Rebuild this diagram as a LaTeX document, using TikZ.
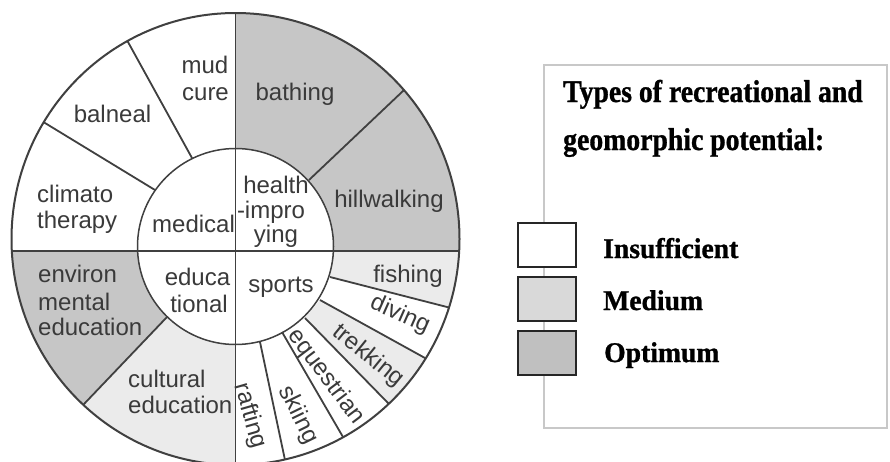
\documentclass[tikz,border=0pt]{standalone}
\usepackage{fontspec}
\setmainfont{Liberation Sans}
\newfontfamily\legA{Liberation Serif}[FakeStretch=0.88,FakeBold=1]
\newfontfamily\legB{Liberation Serif}[FakeStretch=0.97,FakeBold=1]
\definecolor{ink}{HTML}{3A3A3A}
\definecolor{lineC}{HTML}{404040}
\definecolor{opt}{HTML}{C6C6C6}
\definecolor{med}{HTML}{EBEBEB}
\definecolor{legopt}{HTML}{C0C0C0}
\definecolor{legmed}{HTML}{D9D9D9}
\definecolor{frameC}{HTML}{C8C8C8}
\begin{document}
\begin{tikzpicture}[x=1pt,y=-1pt,
  lbl/.style={font=\fontsize{24}{24}\selectfont, text=ink, inner sep=0pt, anchor=base},
  lblw/.style={lbl, anchor=base west},
  rotlbl/.style={font=\fontsize{24}{24}\selectfont, text=ink, inner sep=0pt, anchor=center, rotate=#1},
  divline/.style={draw=lineC, line width=1.8pt},
  legbox/.style={draw=black!85, line width=2pt, minimum width=58pt, minimum height=44pt, inner sep=0pt},
  legtitle/.style={font=\legA\bfseries\fontsize{31.5}{31.5}\selectfont, inner sep=0pt, anchor=base west},
  legitem/.style={font=\legB\bfseries\fontsize{28.5}{28.5}\selectfont, inner sep=0pt, anchor=base west}]
\useasboundingbox (0,0) rectangle (890,461);
\fill[white] (0,0) rectangle (890,461);
% centres
\coordinate (C) at (235.5,246.5);
\coordinate (Co) at (235.5,239);
% divider end points
\coordinate (d1i) at (192,158); \coordinate (d1e) at (64,-74);
\coordinate (d2i) at (155,190); \coordinate (d2e) at (-65,56);
\coordinate (d3i) at (309,180); \coordinate (d3e) at (497,2);
\coordinate (d4i) at (167,317); \coordinate (d4e) at (3,489);
\coordinate (s1i) at (330,277); \coordinate (s1e) at (564,337);
\coordinate (s2i) at (320,300); \coordinate (s2e) at (530,416);
\coordinate (s3i) at (305,318); \coordinate (s3e) at (471,488);
\coordinate (s4i) at (282,332); \coordinate (s4e) at (404,542);
\coordinate (s5i) at (260,342); \coordinate (s5e) at (310,578);
\coordinate (vt) at (235.5,-100); \coordinate (vb) at (235.5,600);
\coordinate (hl) at (-200,251); \coordinate (hr) at (700,251);
\coordinate (hc) at (235.5,251);
\begin{scope}
\clip (Co) ellipse [x radius=224pt, y radius=226pt];
% optimum sectors
\fill[opt] (C) -- (vt) -- (d3e) -- (d3i) -- cycle;
\fill[opt] (d3i) -- (d3e) -- (700,2) -- (hr) -- (hc) -- cycle;
\fill[opt] (hc) -- (hl) -- (-200,489) -- (d4e) -- (d4i) -- cycle;
% medium sectors
\fill[med] (d4i) -- (d4e) -- (3,600) -- (vb) -- (hc) -- cycle;
\fill[med] (hc) -- (hr) -- (700,337) -- (s1e) -- (s1i) -- cycle;
\fill[med] (s2i) -- (s2e) -- (s3e) -- (s3i) -- cycle;
% inner disc
\fill[white] (C) circle [radius=98pt];
% lines
\draw[divline] (vt) -- (vb);
\draw[divline] (hl) -- (hr);
\foreach \p in {d1,d2,d3,d4,s1,s2,s3,s4,s5}{
  \draw[divline] (\p i) -- (\p e);
}
\end{scope}
\draw[draw=lineC, line width=1.5pt] (C) circle [radius=98pt];
\draw[draw=lineC, line width=2pt] (Co) ellipse [x radius=224pt, y radius=226pt];
% labels: medical quadrant
\node[lbl] (mud) at (205,73) {mud};
\node[lbl] (cure) at (205.5,100) {cure};
\node[lbl] (balneal) at (112.5,122) {balneal};
\node[lblw] (climato) at (37,202) {climato};
\node[lblw] (therapy) at (37,228) {therapy};
\node[lblw] (medical) at (152,232) {medical};
% health-improving
\node[lbl] (health) at (276,193) {health};
\node[lbl] (impro) at (271,218) {-impro};
\node[lbl] (ying) at (276,242) {ying};
\node[lbl] (bathing) at (295,100) {bathing};
\node[lbl] (hillwalking) at (389,207) {hillwalking};
% educational
\node[lblw] (env1) at (38,282) {environ};
\node[lblw] (env2) at (38,310) {mental};
\node[lblw] (env3) at (38,335) {education};
\node[lbl] (educa) at (197.5,285) {educa};
\node[lbl] (tional) at (199,312) {tional};
\node[lblw] (cult1) at (128,387) {cultural};
\node[lblw] (cult2) at (128,413) {education};
% sports
\node[lbl] (sports) at (281,292) {sports};
\node[lbl] (fishing) at (408,282) {fishing};
\node[rotlbl=-24] (diving) at (400,315) {diving};
\node[rotlbl=-39] (trekking) at (368,356) {trekking};
\node[rotlbl=-53] (equestrian) at (326,377) {equestrian};
\node[rotlbl=-64] (skiing) at (298,415) {skiing};
\node[rotlbl=-74] (rafting) at (250,416) {rafting};
% legend
\node[draw=frameC, line width=1.2pt, minimum width=343pt, minimum height=363pt, inner sep=0pt] (frame) at (715.5,246.5) {};
\node[legtitle] (t1) at (563,102) {Types of recreational and};
\node[legtitle] (t2) at (563,150) {geomorphic potential:};
\node[legbox, fill=white] (b1) at (547,245) {};
\node[legbox, fill=legmed] (b2) at (547,299) {};
\node[legbox, fill=legopt] (b3) at (547,353) {};
\node[legitem] (i1) at (603,258) {Insufficient};
\node[legitem] (i2) at (603,310) {Medium};
\node[legitem] (i3) at (604,362) {Optimum};
\end{tikzpicture}
\end{document}
